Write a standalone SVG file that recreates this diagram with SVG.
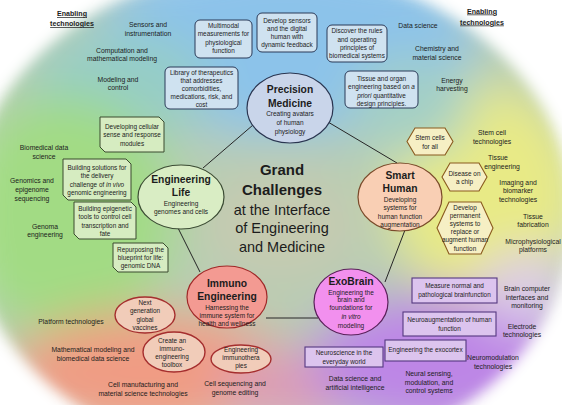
<svg xmlns="http://www.w3.org/2000/svg" width="562" height="405" viewBox="0 0 562 405">
<defs>
<filter id="blur" x="-30%" y="-30%" width="160%" height="160%"><feGaussianBlur stdDeviation="24"/></filter>
<filter id="soft" x="-10%" y="-10%" width="120%" height="120%"><feGaussianBlur stdDeviation="7"/></filter>
<mask id="blob" maskUnits="userSpaceOnUse" x="0" y="0" width="562" height="405">
<ellipse cx="270" cy="215" rx="303" ry="248" fill="#fff" filter="url(#soft)"/>
</mask>
<style>
text{font-family:"Liberation Sans",Arial,sans-serif;fill:#1c1c1c;text-anchor:middle}
.lab{font-size:6.8px}
.bx{font-size:6.4px}
.sub{font-size:6.5px}
.ttl{font-size:10.3px;font-weight:bold}
.big{font-size:14.5px}
.bigb{font-size:15px;font-weight:bold}
.en{font-size:7.1px;font-weight:bold;text-decoration:underline}
.blue{fill:#cfe2f0;stroke:#2b3a58;stroke-width:1}
.green{fill:#d6ecc1;stroke:#3a4a2e;stroke-width:1}
.hex{fill:#f6efc4;stroke:#8a5a1e;stroke-width:1.1}
.imm{fill:#f1ccb9;stroke:#a52e2e;stroke-width:1.4}
.pur{fill:#dcc4ee;stroke:#553880;stroke-width:1.1}
.con{stroke:#262626;stroke-width:1;fill:none}
.it{font-style:italic}
</style>
</defs>
<rect width="562" height="405" fill="#ffffff"/>
<g mask="url(#blob)">
<g filter="url(#blur)">
<rect x="-40" y="-40" width="642" height="485" fill="#b7cdb4"/>
<ellipse cx="285" cy="40" rx="190" ry="95" fill="#8cc3ea"/>
<ellipse cx="120" cy="85" rx="90" ry="55" fill="#96cdc6"/>
<ellipse cx="65" cy="215" rx="110" ry="120" fill="#a2db84"/>
<ellipse cx="485" cy="195" rx="95" ry="110" fill="#e8ea86"/>
<ellipse cx="410" cy="105" rx="60" ry="50" fill="#a3cfc6"/>
<ellipse cx="150" cy="372" rx="140" ry="60" fill="#f09c84"/>
<ellipse cx="290" cy="388" rx="70" ry="40" fill="#dc9db6"/>
<ellipse cx="440" cy="362" rx="130" ry="70" fill="#bd86e6"/>
<ellipse cx="525" cy="290" rx="45" ry="40" fill="#dccbe8"/>
<ellipse cx="280" cy="225" rx="80" ry="55" fill="#c6cab0"/>
</g>
</g>

<g id="connectors">
<line class="con" x1="253" y1="125" x2="203" y2="168"/>
<line class="con" x1="328" y1="122" x2="397" y2="163"/>
<line class="con" x1="178" y1="228" x2="200" y2="272"/>
<line class="con" x1="405" y1="230" x2="385" y2="282"/>
<line class="con" x1="266" y1="318" x2="318" y2="318"/>
</g>

<g id="title">
<text class="bigb" x="282" y="175">Grand</text>
<text class="bigb" x="282" y="195">Challenges</text>
<text class="big" x="282" y="215">at the Interface</text>
<text class="big" x="282" y="233">of Engineering</text>
<text class="big" x="282" y="252">and Medicine</text>
</g>

<g id="precision-medicine">
<ellipse cx="290" cy="108" rx="43" ry="35" fill="#c9d5ea" stroke="#2a3550" stroke-width="1.2"/>
<text class="ttl" x="290" y="93">Precision</text>
<text class="ttl" x="290" y="107">Medicine</text>
<text class="sub" x="290" y="116">Creating avatars</text>
<text class="sub" x="290" y="125">of human</text>
<text class="sub" x="290" y="134">physiology</text>
</g>

<g id="engineering-life">
<ellipse cx="181" cy="197" rx="43" ry="32" fill="#d9edc4" stroke="#3c4c34" stroke-width="1.2"/>
<text class="ttl" x="181" y="183">Engineering</text>
<text class="ttl" x="181" y="196">Life</text>
<text class="sub" x="181" y="206">Engineering</text>
<text class="sub" x="181" y="214">genomes and cells</text>
</g>

<g id="smart-human">
<ellipse cx="400" cy="197" rx="42" ry="34" fill="#f9cfb4" stroke="#7a4a2a" stroke-width="1.2"/>
<text class="ttl" x="400" y="179">Smart</text>
<text class="ttl" x="400" y="192">Human</text>
<text class="sub" x="400" y="202">Developing</text>
<text class="sub" x="400" y="210">systems for</text>
<text class="sub" x="400" y="219">human function</text>
<text class="sub" x="400" y="227">augmentation</text>
</g>

<g id="immuno-engineering">
<ellipse cx="227" cy="297" rx="40" ry="31" fill="#f39a92" stroke="#a02828" stroke-width="1.2"/>
<text class="ttl" x="227" y="287">Immuno</text>
<text class="ttl" x="227" y="300">Engineering</text>
<text class="sub" x="227" y="310">Harnessing the</text>
<text class="sub" x="227" y="318">immune system for</text>
<text class="sub" x="227" y="326">health and wellness</text>
</g>

<g id="exobrain">
<ellipse cx="351" cy="302" rx="37" ry="33" fill="#f290ee" stroke="#5a205a" stroke-width="1.2"/>
<text class="ttl" x="351" y="285">ExoBrain</text>
<text class="sub" x="351" y="295">Engineering the</text>
<text class="sub" x="351" y="302">brain and</text>
<text class="sub" x="351" y="310">foundations for</text>
<text class="sub it" x="351" y="319">in vitro</text>
<text class="sub" x="351" y="328">modeling</text>
</g>

<g id="pm-multimodal">
<rect class="blue" x="195" y="20" width="57" height="38" rx="5"/>
<text class="bx" x="223.5" y="27.5">Multimodal</text>
<text class="bx" x="223.5" y="36">measurements for</text>
<text class="bx" x="223.5" y="44.5">physiological</text>
<text class="bx" x="223.5" y="53">function</text>
</g>
<g id="pm-sensors">
<rect class="blue" x="257" y="13" width="60" height="39" rx="5"/>
<text class="bx" x="287" y="22.5">Develop sensors</text>
<text class="bx" x="287" y="30.8">and the digital</text>
<text class="bx" x="287" y="39">human with</text>
<text class="bx" x="287" y="47.3">dynamic feedback</text>
</g>
<g id="pm-rules">
<rect class="blue" x="327" y="25" width="60" height="37" rx="5"/>
<text class="bx" x="357" y="33.3">Discover the rules</text>
<text class="bx" x="357" y="41.5">and operating</text>
<text class="bx" x="357" y="50">principles of</text>
<text class="bx" x="357" y="58.3">biomedical systems</text>
</g>
<g id="pm-tissue">
<rect class="blue" x="345" y="71" width="73" height="37" rx="5"/>
<text class="bx" x="381.5" y="80.5">Tissue and organ</text>
<text class="bx" x="381.5" y="89">engineering based on <tspan class="it">a</tspan></text>
<text class="bx" x="381.5" y="97.5"><tspan class="it">priori</tspan> quantitative</text>
<text class="bx" x="381.5" y="105.5">design principles.</text>
</g>
<g id="pm-library">
<rect class="blue" x="165" y="67" width="73" height="42" rx="5"/>
<text class="bx" x="201.5" y="74.5">Library of therapeutics</text>
<text class="bx" x="201.5" y="82.5">that addresses</text>
<text class="bx" x="201.5" y="90.5">comorbidities,</text>
<text class="bx" x="201.5" y="99">medications, risk, and</text>
<text class="bx" x="201.5" y="106.5">cost</text>
</g>

<g id="el-sense">
<polygon class="green" points="100,117 159,117 164,122 164,152 105,152 100,147"/>
<text class="bx" x="132" y="128.5">Developing cellular</text>
<text class="bx" x="132" y="136.5">sense and response</text>
<text class="bx" x="132" y="145.5">modules</text>
</g>
<g id="el-delivery">
<polygon class="green" points="63,159 126,159 131,164 131,200 68,200 63,195"/>
<text class="bx" x="97" y="169.5">Building solutions for</text>
<text class="bx" x="97" y="177.5">the delivery</text>
<text class="bx" x="97" y="186.5">challenge of <tspan class="it">in vivo</tspan></text>
<text class="bx" x="97" y="194.5">genomic engineering</text>
</g>
<g id="el-epigenetic">
<polygon class="green" points="74,202 131,202 136,207 136,239 79,239 74,234"/>
<text class="bx" x="105" y="211">Building epigenetic</text>
<text class="bx" x="105" y="219">tools to control cell</text>
<text class="bx" x="105" y="227.5">transcription and</text>
<text class="bx" x="105" y="235.5">fate</text>
</g>
<g id="el-repurposing">
<polygon class="green" points="113,243 163,243 168,248 168,272 118,272 113,267"/>
<text class="bx" x="140.5" y="251.5">Repurposing the</text>
<text class="bx" x="140.5" y="259.5">blueprint for life:</text>
<text class="bx" x="140.5" y="268">genomic DNA</text>
</g>

<g id="sh-stem">
<polygon class="hex" points="415,128 445,128 453,141.5 445,155 415,155 407,141.5"/>
<text class="bx" x="430" y="140.3">Stem cells</text>
<text class="bx" x="430" y="149.3">for all</text>
</g>
<g id="sh-chip">
<polygon class="hex" points="450,163 479,163 487,177 479,191 450,191 442,177"/>
<text class="bx" x="464.5" y="175.5">Disease on</text>
<text class="bx" x="464.5" y="183.5">a chip</text>
</g>
<g id="sh-permanent">
<polygon class="hex" points="449,202 481,202 493,228 481,254 449,254 437,228"/>
<text class="bx" x="465" y="209.5">Develop</text>
<text class="bx" x="465" y="217.7">permanent</text>
<text class="bx" x="465" y="225.9">systems to</text>
<text class="bx" x="465" y="234.1">replace or</text>
<text class="bx" x="465" y="242.3">augment human</text>
<text class="bx" x="465" y="250.5">function</text>
</g>

<g id="im-vaccines">
<ellipse class="imm" cx="145" cy="315" rx="30" ry="18"/>
<text class="bx" x="145" y="304.5">Next</text>
<text class="bx" x="145" y="313">generation</text>
<text class="bx" x="145" y="321.5">global</text>
<text class="bx" x="145" y="329.5">vaccines</text>
</g>
<g id="im-toolbox">
<ellipse class="imm" cx="174" cy="352" rx="31" ry="20"/>
<text class="bx" x="172" y="342.5">Create an</text>
<text class="bx" x="172" y="350.5">immuno-</text>
<text class="bx" x="172" y="359">engineering</text>
<text class="bx" x="172" y="367">toolbox</text>
</g>
<g id="im-therapies">
<ellipse class="imm" cx="241" cy="359" rx="30" ry="14"/>
<text class="bx" x="241" y="351.5">Engineering</text>
<text class="bx" x="241" y="359.5">immunothera</text>
<text class="bx" x="241" y="368">pies</text>
</g>

<g id="eb-everyday">
<rect class="pur" x="305" y="347" width="78" height="20"/>
<text class="bx" x="344" y="355.3">Neuroscience in the</text>
<text class="bx" x="344" y="364.3">everyday world</text>
</g>
<g id="eb-measure">
<rect class="pur" x="412" y="278" width="85" height="25"/>
<text class="bx" x="454.5" y="288.3">Measure normal and</text>
<text class="bx" x="454.5" y="297.3">pathological brainfunction</text>
</g>
<g id="eb-neuroaug">
<rect class="pur" x="403" y="312" width="93" height="24"/>
<text class="bx" x="449.5" y="322.3">Neuroaugmentation of human</text>
<text class="bx" x="449.5" y="331.3">function</text>
</g>
<g id="eb-exocortex">
<rect class="pur" x="385" y="340" width="81" height="21"/>
<text class="bx" x="425.5" y="352.3">Engineering the exocortex</text>
</g>

<g id="labels">
<text class="en" x="72" y="16">Enabling</text>
<text class="en" x="72" y="26">technologies</text>
<text class="lab" x="148" y="26.5">Sensors and</text>
<text class="lab" x="148" y="35.5">instrumentation</text>
<text class="lab" x="122" y="52.5">Computation and</text>
<text class="lab" x="122" y="60.5">mathematical modeling</text>
<text class="lab" x="118" y="81.5">Modeling and</text>
<text class="lab" x="118" y="89.5">control</text>

<text class="en" x="482" y="13.5">Enabling</text>
<text class="en" x="482" y="24.5">technologies</text>
<text class="lab" x="418" y="27.5">Data science</text>
<text class="lab" x="437" y="50.5">Chemistry and</text>
<text class="lab" x="437" y="59.5">material science</text>
<text class="lab" x="452" y="82.5">Energy</text>
<text class="lab" x="452" y="90.5">harvesting</text>

<text class="lab" x="44" y="149.5">Biomedical data</text>
<text class="lab" x="44" y="158.5">science</text>
<text class="lab" x="32" y="182.5">Genomics and</text>
<text class="lab" x="32" y="191.5">epigenome</text>
<text class="lab" x="32" y="200.5">sequencing</text>
<text class="lab" x="45" y="228.5">Genoma</text>
<text class="lab" x="45" y="236.5">engineering</text>

<text class="lab" x="492" y="134.5">Stem cell</text>
<text class="lab" x="492" y="143.5">technologies</text>
<text class="lab" x="498" y="159.5">Tissue</text>
<text class="lab" x="502" y="168.5">engineering</text>
<text class="lab" x="518" y="184.5">Imaging and</text>
<text class="lab" x="518" y="192.5">biomarker</text>
<text class="lab" x="518" y="201.5">technologies</text>
<text class="lab" x="533" y="218.5">Tissue</text>
<text class="lab" x="533" y="226.5">fabrication</text>
<text class="lab" x="533" y="243.5">Microphysiological</text>
<text class="lab" x="533" y="251.5">platforms</text>

<text class="lab" x="71" y="323.5">Platform technologies</text>
<text class="lab" x="93" y="351.5">Mathematical modeling and</text>
<text class="lab" x="93" y="360.5">biomedical data science</text>
<text class="lab" x="143" y="386.5">Cell manufacturing and</text>
<text class="lab" x="143" y="395.5">material science technologies</text>
<text class="lab" x="235" y="385.5">Cell sequencing and</text>
<text class="lab" x="235" y="394.5">genome editing</text>

<text class="lab" x="355" y="380.5">Data science and</text>
<text class="lab" x="355" y="389.5">artificial intelligence</text>
<text class="lab" x="429" y="375.5">Neural sensing,</text>
<text class="lab" x="429" y="384.5">modulation, and</text>
<text class="lab" x="429" y="392.5">control systems</text>
<text class="lab" x="527" y="290.5">Brain computer</text>
<text class="lab" x="527" y="299.5">interfaces and</text>
<text class="lab" x="527" y="307.5">monitoring</text>
<text class="lab" x="522" y="328.5">Electrode</text>
<text class="lab" x="522" y="336.5">technologies</text>
<text class="lab" x="493" y="359.5">Neuromodulation</text>
<text class="lab" x="493" y="368.5">technologies</text>
</g>
</svg>
